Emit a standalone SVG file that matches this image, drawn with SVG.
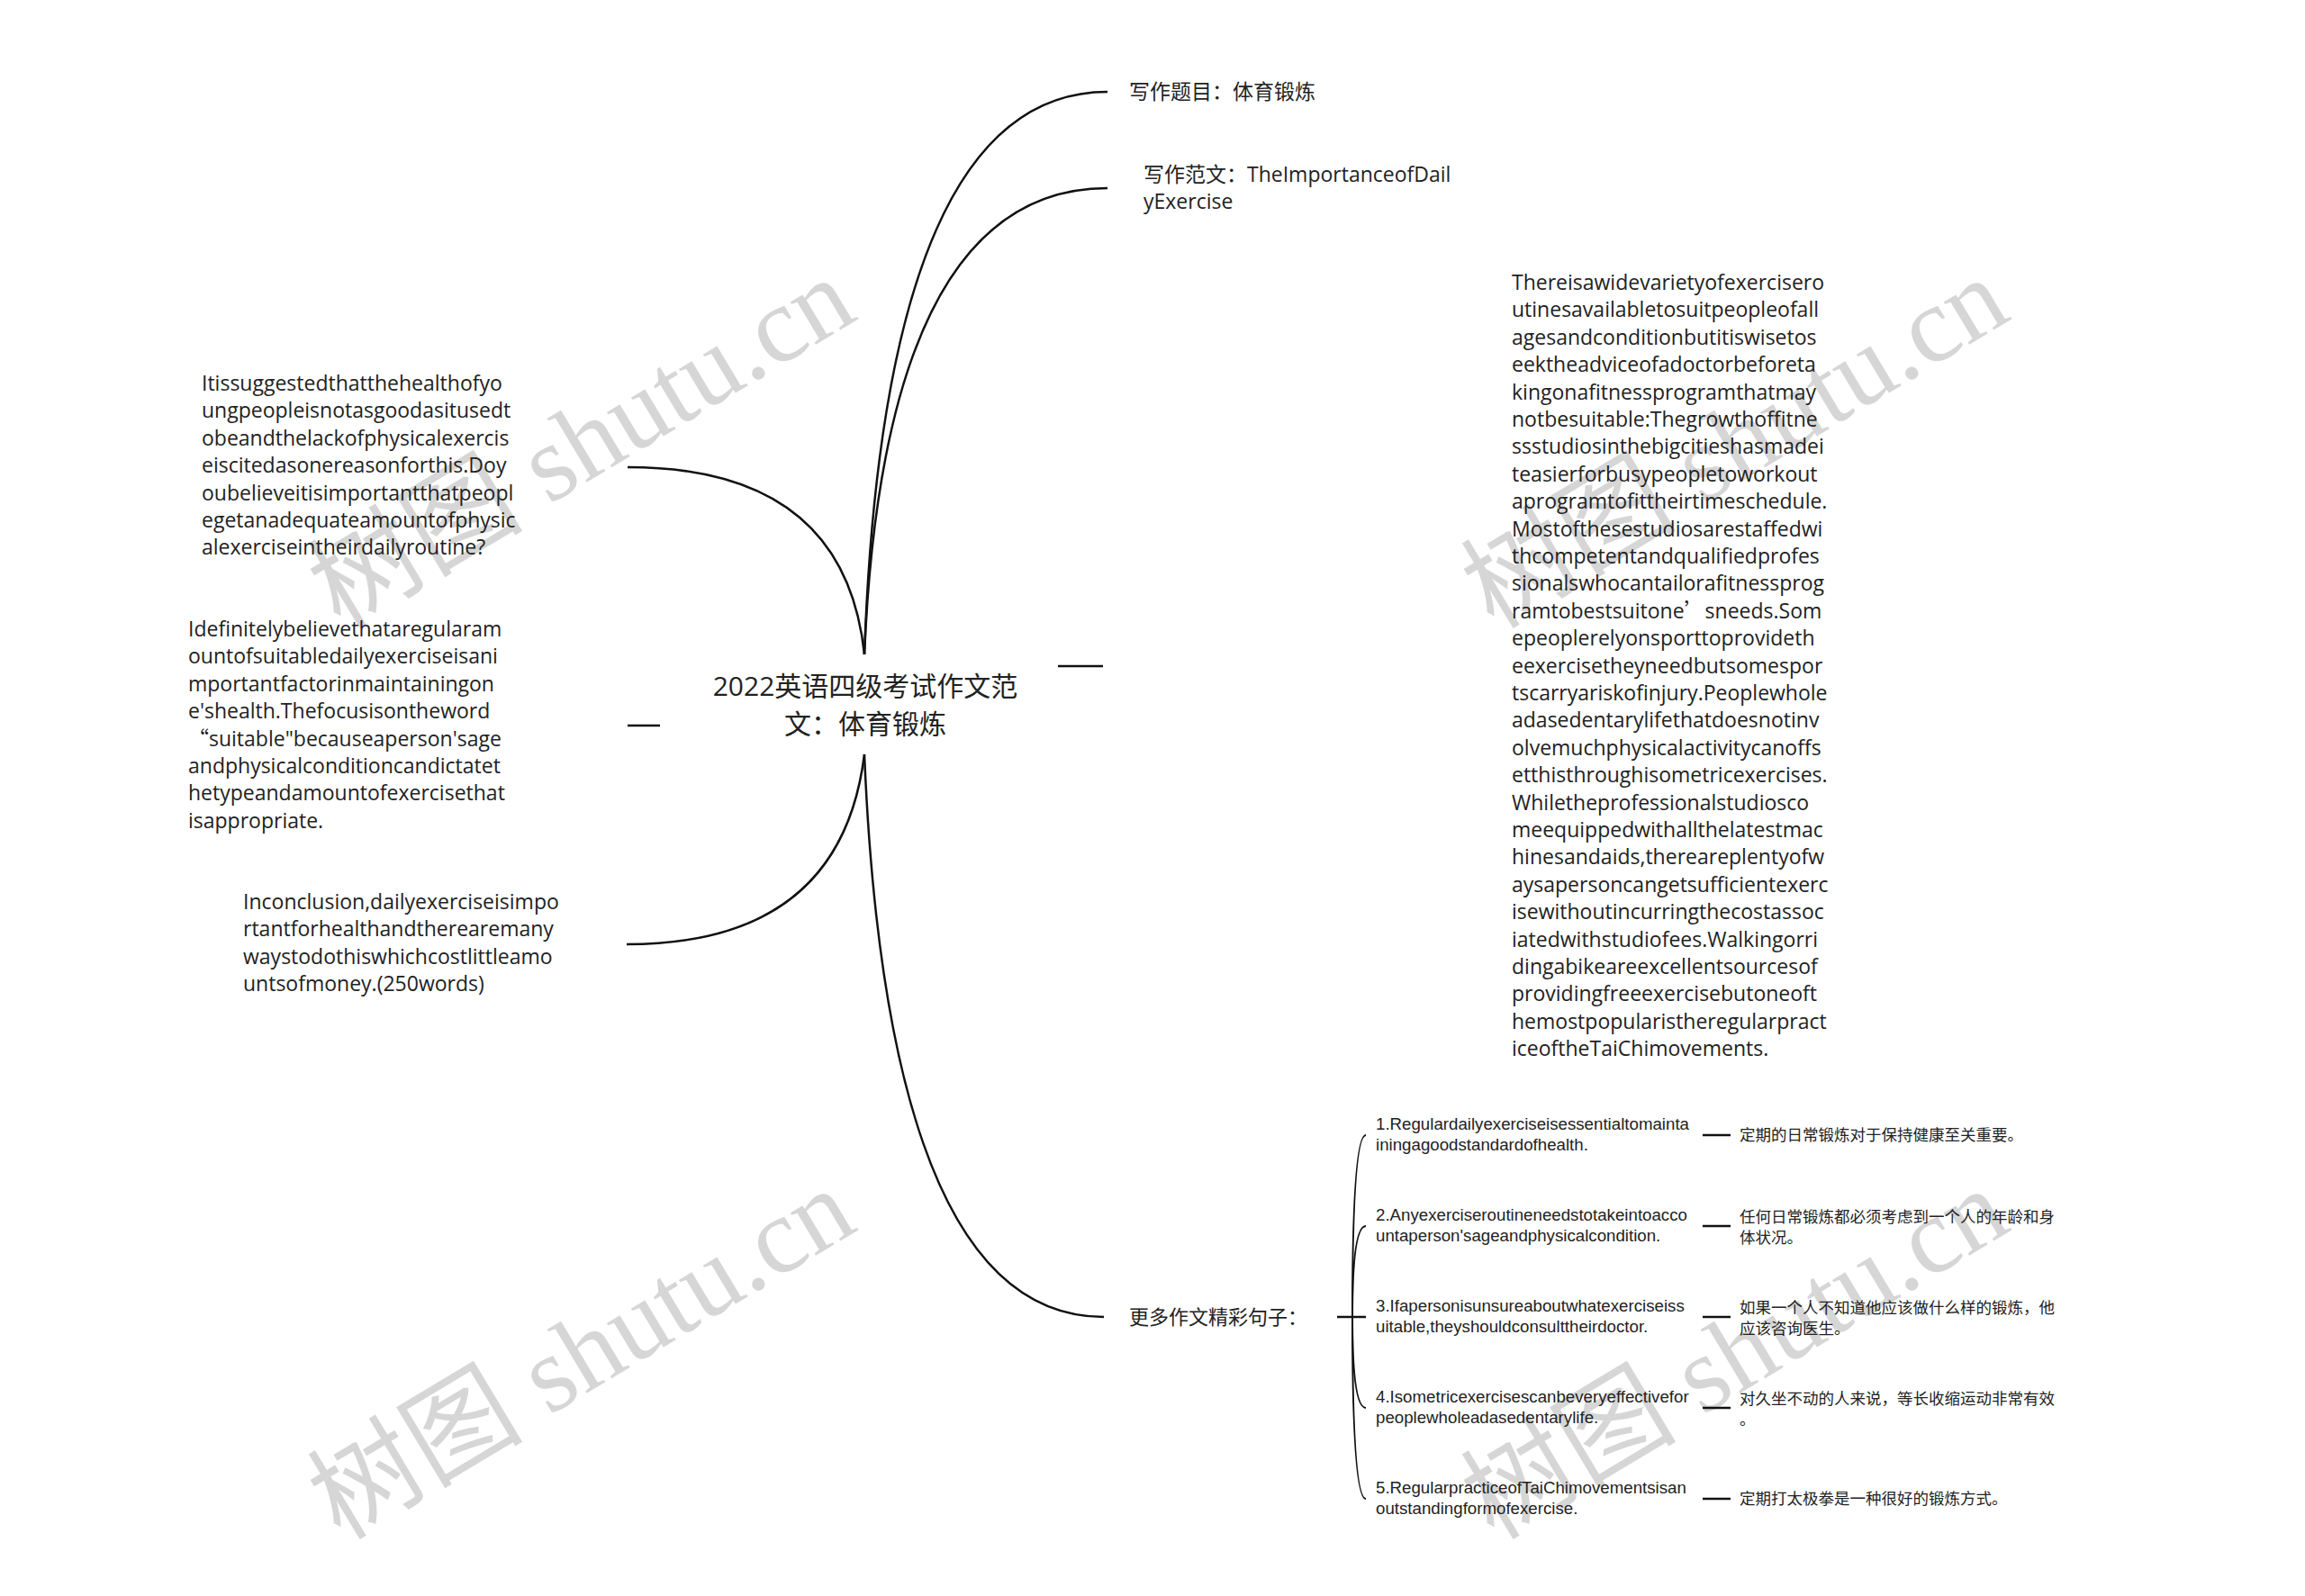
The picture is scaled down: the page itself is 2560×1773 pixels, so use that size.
<svg xmlns="http://www.w3.org/2000/svg" width="2560" height="1773" viewBox="0 0 2560 1773">
<style>
.t{font-family:"Open Sans","Noto Sans CJK SC",sans-serif;font-size:23px;fill:#222}
.m{font-family:"Open Sans","Noto Sans CJK SC",sans-serif;font-size:30px;fill:#222}
.c{font-family:"Noto Sans CJK SC",sans-serif}
.s{font-family:"Liberation Sans","Noto Sans CJK SC",sans-serif;font-size:18.7px;fill:#222}
.z{font-family:"Noto Sans CJK SC",sans-serif;font-size:17.5px;fill:#222}
.ln{fill:none;stroke:#111;stroke-width:2.5}
.br{fill:none;stroke:#111;stroke-width:2}
.wm{fill:#d6d6d6;font-size:120px}
.wmc{font-family:"Noto Sans CJK SC",serif}
.wms{font-family:"Liberation Serif",serif}
</style>
<rect width="2560" height="1773" fill="#fff"/>
<g id="watermarks">
<text class="wm" transform="translate(378,700) rotate(-31)"><tspan class="wmc">树图</tspan> <tspan class="wms">shutu.cn</tspan></text>
<text class="wm" transform="translate(378,1712) rotate(-31)"><tspan class="wmc">树图</tspan> <tspan class="wms">shutu.cn</tspan></text>
<text class="wm" transform="translate(1659,700) rotate(-31)"><tspan class="wmc">树图</tspan> <tspan class="wms">shutu.cn</tspan></text>
<text class="wm" transform="translate(1659,1712) rotate(-31)"><tspan class="wmc">树图</tspan> <tspan class="wms">shutu.cn</tspan></text>
</g>
<g id="connectors">
<path class="ln" d="M960,727 Q982,102 1230,102"/>
<path class="ln" d="M960,727 Q982,209 1230,209"/>
<path class="ln" d="M960,727 Q938,519 697,519"/>
<path class="ln" d="M1175,740 H1225"/>
<path class="ln" d="M697,806 H733"/>
<path class="ln" d="M960,838 Q934,1049 696,1049"/>
<path class="ln" d="M960,838 Q986,1463 1226,1463"/>
<path class="ln" d="M1485,1463 H1517"/>
<path class="br" d="M1502,1463 Q1502,1261 1517,1261"/>
<path class="br" d="M1502,1463 Q1502,1362 1517,1362"/>
<path class="br" d="M1502,1463 Q1502,1564 1517,1564"/>
<path class="br" d="M1502,1463 Q1502,1665 1517,1665"/>
<path class="ln" d="M1891,1261 H1922"/>
<path class="ln" d="M1891,1362 H1922"/>
<path class="ln" d="M1891,1463 H1922"/>
<path class="ln" d="M1891,1564 H1922"/>
<path class="ln" d="M1891,1665 H1922"/>
</g>
<g id="center">
<text class="m" text-anchor="middle"><tspan x="961" y="773">2022英语四级考试作文范</tspan><tspan x="961" y="815">文：体育锻炼</tspan></text>
</g>
<g id="topic">
<text class="t" x="1254" y="110">写作题目：体育锻炼</text>
</g>
<g id="essay-title">
<text class="t"><tspan x="1270" y="202">写作范文：TheImportanceofDail</tspan><tspan x="1270" y="232">yExercise</tspan></text>
</g>
<g id="para1">
<text class="t" x="224" y="434"><tspan x="224">Itissuggestedthatthehealthofyo</tspan><tspan x="224" dy="30.4">ungpeopleisnotasgoodasitusedt</tspan><tspan x="224" dy="30.4">obeandthelackofphysicalexercis</tspan><tspan x="224" dy="30.4">eiscitedasonereasonforthis.Doy</tspan><tspan x="224" dy="30.4">oubelieveitisimportantthatpeopl</tspan><tspan x="224" dy="30.4">egetanadequateamountofphysic</tspan><tspan x="224" dy="30.4">alexerciseintheirdailyroutine?</tspan></text>
</g>
<g id="para2">
<text class="t" x="209" y="707"><tspan x="209">Idefinitelybelievethataregularam</tspan><tspan x="209" dy="30.4">ountofsuitabledailyexerciseisani</tspan><tspan x="209" dy="30.4">mportantfactorinmaintainingon</tspan><tspan x="209" dy="30.4">e'shealth.Thefocusisontheword</tspan><tspan x="209" dy="30.4"><tspan class="c">“</tspan>suitable"becauseaperson'sage</tspan><tspan x="209" dy="30.4">andphysicalconditioncandictatet</tspan><tspan x="209" dy="30.4">hetypeandamountofexercisethat</tspan><tspan x="209" dy="30.4">isappropriate.</tspan></text>
</g>
<g id="para3">
<text class="t" x="270" y="1010"><tspan x="270">Inconclusion,dailyexerciseisimpo</tspan><tspan x="270" dy="30.4">rtantforhealthandtherearemany</tspan><tspan x="270" dy="30.4">waystodothiswhichcostlittleamo</tspan><tspan x="270" dy="30.4">untsofmoney.(250words)</tspan></text>
</g>
<g id="para-main">
<text class="t" x="1679" y="322"><tspan x="1679">Thereisawidevarietyofexercisero</tspan><tspan x="1679" dy="30.4">utinesavailabletosuitpeopleofall</tspan><tspan x="1679" dy="30.4">agesandconditionbutitiswisetos</tspan><tspan x="1679" dy="30.4">eektheadviceofadoctorbeforeta</tspan><tspan x="1679" dy="30.4">kingonafitnessprogramthatmay</tspan><tspan x="1679" dy="30.4">notbesuitable:Thegrowthoffitne</tspan><tspan x="1679" dy="30.4">ssstudiosinthebigcitieshasmadei</tspan><tspan x="1679" dy="30.4">teasierforbusypeopletoworkout</tspan><tspan x="1679" dy="30.4">aprogramtofittheirtimeschedule.</tspan><tspan x="1679" dy="30.4">Mostofthesestudiosarestaffedwi</tspan><tspan x="1679" dy="30.4">thcompetentandqualifiedprofes</tspan><tspan x="1679" dy="30.4">sionalswhocantailorafitnessprog</tspan><tspan x="1679" dy="30.4">ramtobestsuitone<tspan class="c">’</tspan>sneeds.Som</tspan><tspan x="1679" dy="30.4">epeoplerelyonsporttoprovideth</tspan><tspan x="1679" dy="30.4">eexercisetheyneedbutsomespor</tspan><tspan x="1679" dy="30.4">tscarryariskofinjury.Peoplewhole</tspan><tspan x="1679" dy="30.4">adasedentarylifethatdoesnotinv</tspan><tspan x="1679" dy="30.4">olvemuchphysicalactivitycanoffs</tspan><tspan x="1679" dy="30.4">etthisthroughisometricexercises.</tspan><tspan x="1679" dy="30.4">Whiletheprofessionalstudiosco</tspan><tspan x="1679" dy="30.4">meequippedwithallthelatestmac</tspan><tspan x="1679" dy="30.4">hinesandaids,thereareplentyofw</tspan><tspan x="1679" dy="30.4">aysapersoncangetsufficientexerc</tspan><tspan x="1679" dy="30.4">isewithoutincurringthecostassoc</tspan><tspan x="1679" dy="30.4">iatedwithstudiofees.Walkingorri</tspan><tspan x="1679" dy="30.4">dingabikeareexcellentsourcesof</tspan><tspan x="1679" dy="30.4">providingfreeexercisebutoneoft</tspan><tspan x="1679" dy="30.4">hemostpopularistheregularpract</tspan><tspan x="1679" dy="30.4">iceoftheTaiChimovements.</tspan></text>
</g>
<g id="more">
<text class="t c" x="1254" y="1471" style="font-size:22px">更多作文精彩句子：</text>
</g>
<g id="s1">
<text class="s"><tspan x="1528" y="1255">1.Regulardailyexerciseisessentialtomainta</tspan><tspan x="1528" y="1278">iningagoodstandardofhealth.</tspan></text>
</g>
<g id="s1-cn"><text class="z" x="1932" y="1267">定期的日常锻炼对于保持健康至关重要。</text></g>
<g id="s2">
<text class="s"><tspan x="1528" y="1356">2.Anyexerciseroutineneedstotakeintoacco</tspan><tspan x="1528" y="1379">untaperson'sageandphysicalcondition.</tspan></text>
</g>
<g id="s2-cn"><text class="z"><tspan x="1932" y="1358">任何日常锻炼都必须考虑到一个人的年龄和身</tspan><tspan x="1932" y="1381">体状况。</tspan></text></g>
<g id="s3">
<text class="s"><tspan x="1528" y="1457">3.Ifapersonisunsureaboutwhatexerciseiss</tspan><tspan x="1528" y="1480">uitable,theyshouldconsulttheirdoctor.</tspan></text>
</g>
<g id="s3-cn"><text class="z"><tspan x="1932" y="1459">如果一个人不知道他应该做什么样的锻炼，他</tspan><tspan x="1932" y="1482">应该咨询医生。</tspan></text></g>
<g id="s4">
<text class="s"><tspan x="1528" y="1558">4.Isometricexercisescanbeveryeffectivefor</tspan><tspan x="1528" y="1581">peoplewholeadasedentarylife.</tspan></text>
</g>
<g id="s4-cn"><text class="z"><tspan x="1932" y="1560">对久坐不动的人来说，等长收缩运动非常有效</tspan><tspan x="1932" y="1583">。</tspan></text></g>
<g id="s5">
<text class="s"><tspan x="1528" y="1659">5.RegularpracticeofTaiChimovementsisan</tspan><tspan x="1528" y="1682">outstandingformofexercise.</tspan></text>
</g>
<g id="s5-cn"><text class="z" x="1932" y="1671">定期打太极拳是一种很好的锻炼方式。</text></g>
</svg>
